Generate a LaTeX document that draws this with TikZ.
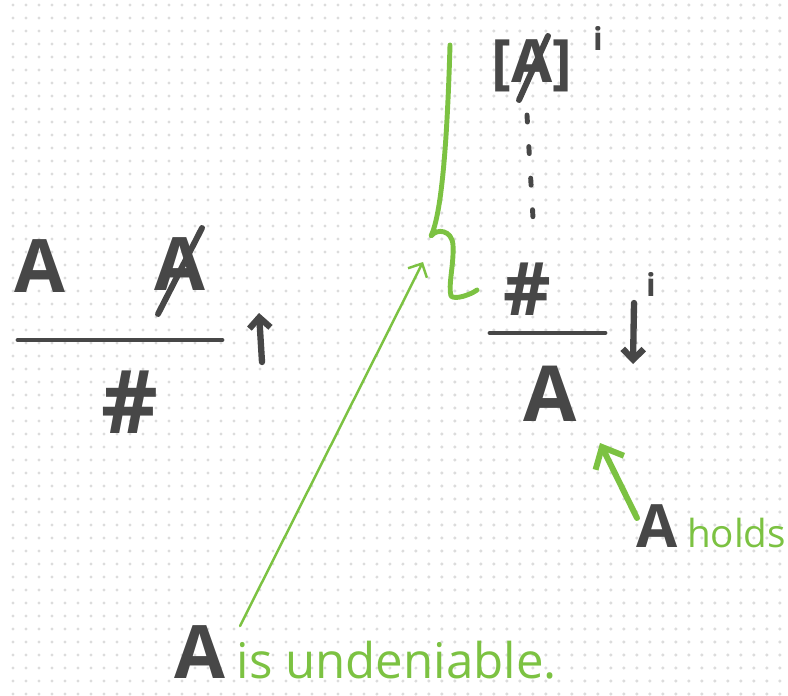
\documentclass[tikz,border=0pt]{standalone}
\usepackage{fontspec}
\setmainfont{Open Sans}
\usepackage{tikz}
\usetikzlibrary{positioning,arrows.meta,calc}
\definecolor{inkgray}{HTML}{474747}
\definecolor{inkgreen}{HTML}{7CC242}
\definecolor{dotgray}{HTML}{DCDCDC}

\begin{document}
\begin{tikzpicture}[
  x=0.02cm, y=-0.02cm,
  >={Straight Barb[length=6pt,width=12pt]},
  ink/.style={text=inkgray, inner sep=0pt, font=\fontsize{42}{42}\selectfont\bfseries},
  hypnode/.style={text=inkgray, inner sep=0pt, font=\fontsize{34}{34}\selectfont\bfseries},
  supnode/.style={text=inkgray, inner sep=0pt, font=\fontsize{18}{18}\selectfont\bfseries},
  gtext/.style={text=inkgreen, inner sep=0pt, font=\fontsize{28}{28}\selectfont},
  dotrow/.style={draw=dotgray, line width=1.9pt, line cap=round, dash pattern=on 0pt off 0.26cm},
  rulebar/.style={draw=inkgray, line width=2.8pt, line cap=round},
  slash/.style={draw=inkgray, line width=3.4pt, line cap=round},
  dirarrow/.style={->, draw=inkgray, line width=3.6pt, line cap=round},
  dotsline/.style={draw=inkgray, line width=2.8pt, line cap=round, dash pattern=on 4pt off 14pt},
  bracemark/.style={draw=inkgreen, line width=2.8pt, line cap=round, line join=round},
  notearrow/.style={->, draw=inkgreen, line width=1.4pt, line cap=round},
  holdsarrow/.style={-{Straight Barb[length=10pt,width=18pt]}, draw=inkgreen, line width=3.4pt, line cap=round}
]
  \useasboundingbox (0,0) rectangle (788,696);
  \foreach \j in {0,...,53} {\draw[dotrow] (13,13*\j+5) -- (786,13*\j+5);}

  \node[ink] (pA) at (40,266) {A};
  \node[ink] (pNotA) at (180,264) {A};
  \draw[slash] ($(pNotA.center)+(-22,50)$) -- ($(pNotA.center)+(22,-36)$);
  \coordinate (lbarW) at (18,340);
  \coordinate (lbarE) at (222,340);
  \draw[rulebar] (lbarW) -- (lbarE);
  \node[ink, font=\fontsize{50}{50}\selectfont\bfseries] (lFalse) at (130,402) {\#};
  \coordinate (upS) at (262,362);
  \coordinate (upT) at (259,313);
  \draw[dirarrow] (upS) -- (upT);

  \node[hypnode] (hyp) at (532,66) {[A]};
  \draw[slash] (519,100) -- (548,36);
  \node[supnode] (hypI) at (598,38) {i};
  \coordinate (dotTop) at (527,115);
  \coordinate (dotBot) at (533,218);
  \draw[dotsline] (dotTop) -- (dotBot);
  \node[ink, font=\fontsize{42}{42}\selectfont\bfseries] (rFalse) at (527,289) {\#};
  \coordinate (rbarW) at (490,333);
  \coordinate (rbarE) at (605,333);
  \draw[rulebar] (rbarW) -- (rbarE);
  \node[ink, font=\fontsize{44}{44}\selectfont\bfseries] (rA) at (550,394) {A};
  \coordinate (downS) at (634,303);
  \coordinate (downT) at (633,364);
  \draw[dirarrow] (downS) -- (downT);
  \node[supnode] (rI) at (651,284) {i};

  \draw[bracemark] (450,45) .. controls (447,150) and (441,215) .. (431,236)
    .. controls (437,228) and (452,230) .. (453,245)
    .. controls (454,265) and (448,285) .. (451,296)
    .. controls (455,300) and (470,295) .. (477,290);
  \coordinate (braceIn) at (423,262);

  \node[ink] (undA) at (200,652) {A};
  \node[gtext, base right=6pt of undA] (undTxt) {is undeniable.};
  \coordinate (undFrom) at (240,626);
  \draw[notearrow] (undFrom) -- (braceIn);

  \node[ink, font=\fontsize{34}{34}\selectfont\bfseries] (holdA) at (657,526) {A};
  \node[gtext, font=\fontsize{22}{22}\selectfont, base right=5pt of holdA] (holdTxt) {holds};
  \coordinate (holdFrom) at (637,518);
  \coordinate (holdTo) at (600,443);
  \draw[holdsarrow] (holdFrom) -- (holdTo);
\end{tikzpicture}
\end{document}
